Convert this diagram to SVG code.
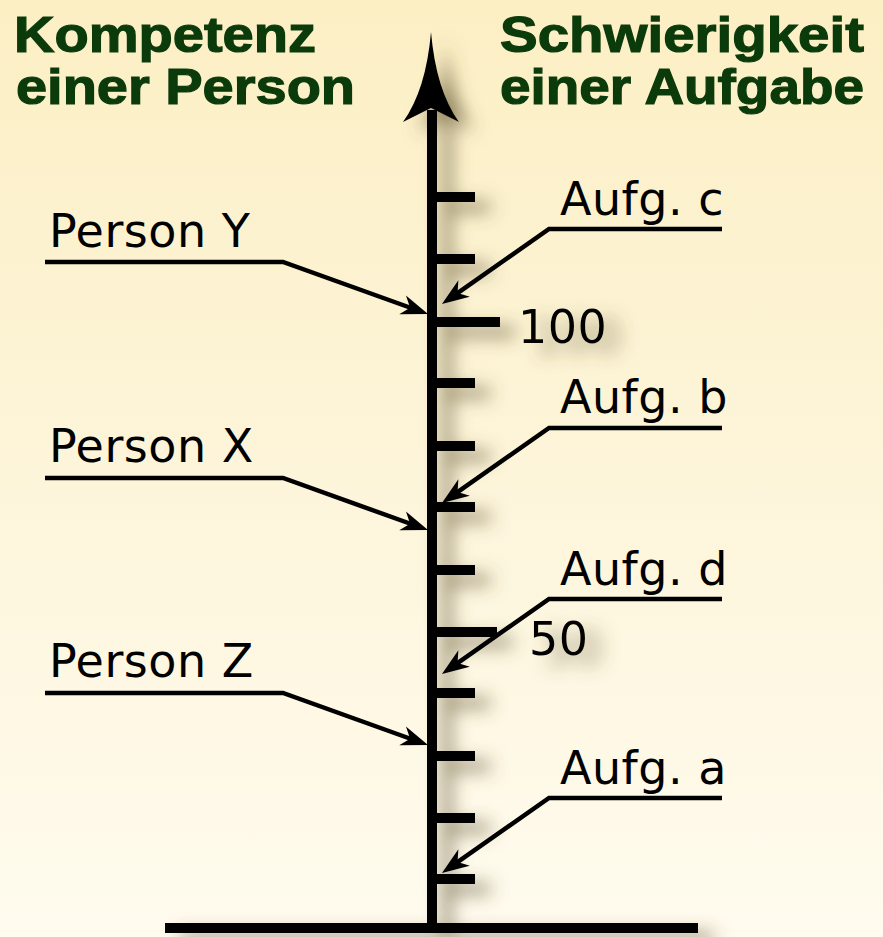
<svg xmlns="http://www.w3.org/2000/svg" width="883" height="937" viewBox="0 0 883 937">
<defs>
<linearGradient id="bg" x1="0" y1="0" x2="0" y2="1">
<stop offset="0" stop-color="#fcefc4"/>
<stop offset="0.5" stop-color="#fdf5da"/>
<stop offset="1" stop-color="#fffbee"/>
</linearGradient>
<filter id="shadow" x="-50%" y="-10%" width="200%" height="120%">
<feGaussianBlur in="SourceAlpha" stdDeviation="9"/>
<feOffset dx="15" dy="10" result="b"/>
<feFlood flood-color="#5a4e2c" flood-opacity="0.65"/>
<feComposite in2="b" operator="in" result="s"/>
<feMerge><feMergeNode in="s"/><feMergeNode in="SourceGraphic"/></feMerge>
</filter>
<marker id="arr" markerUnits="userSpaceOnUse" markerWidth="44" markerHeight="44" viewBox="-22 -22 44 44" refX="0" refY="0" orient="auto">
<path d="M12,0 L-15,-10 L-7,0 L-15,10 Z" fill="#000"/>
</marker>
<style>
.title{font-family:"Liberation Sans",Arial,sans-serif;font-weight:bold;font-size:50px;fill:#0b3a0b;stroke:#0b3a0b;stroke-width:1.2px}
.lbl{font-family:"DejaVu Sans","Liberation Sans",sans-serif;font-size:46px;letter-spacing:0.5px;fill:#000}
.tick{stroke:#000;stroke-width:10;fill:none}
.lead{stroke:#000;stroke-width:4.5;fill:none;stroke-linejoin:miter}
</style>
</defs>
<rect x="0" y="0" width="883" height="937" fill="url(#bg)"/>

<g id="titles">
<text class="title" x="14" y="52" textLength="302" lengthAdjust="spacingAndGlyphs">Kompetenz</text>
<text class="title" x="16" y="104" textLength="339" lengthAdjust="spacingAndGlyphs">einer Person</text>
<text class="title" x="500" y="52" textLength="364" lengthAdjust="spacingAndGlyphs">Schwierigkeit</text>
<text class="title" x="500" y="104" textLength="364" lengthAdjust="spacingAndGlyphs">einer Aufgabe</text>
</g>

<g id="axis" filter="url(#shadow)">
<path d="M432,110 V928" class="tick"/>
<path d="M431,32 Q426,90 403,122 L431,108 L459,122 Q436,90 431,32 Z" fill="#000"/>
<path class="tick" d="M432,197 H475 M432,259 H475 M432,322 H500 M432,383 H475 M432,446 H475 M432,507 H475 M432,570 H475 M432,632 H497 M432,693 H475 M432,756 H475 M432,818 H475 M432,879 H475"/>
<path d="M165,928 H698" class="tick"/>
<text class="lbl" x="518" y="343">100</text>
<text class="lbl" x="529" y="655">50</text>
</g>

<g id="person-y"><text class="lbl" x="49" y="247">Person Y</text></g>
<g id="person-x"><text class="lbl" x="49" y="462">Person X</text></g>
<g id="person-z"><text class="lbl" x="49" y="677">Person Z</text></g>
<g id="aufg-c"><text class="lbl" x="560" y="215">Aufg. c</text></g>
<g id="aufg-b"><text class="lbl" x="560" y="413">Aufg. b</text></g>
<g id="aufg-d"><text class="lbl" x="560" y="585">Aufg. d</text></g>
<g id="aufg-a"><text class="lbl" x="560" y="784">Aufg. a</text></g>

<g id="connectors">
<path class="lead" marker-end="url(#arr)" d="M45,262 H283 L416.7,310"/>
<path class="lead" marker-end="url(#arr)" d="M45,478 H283 L416.7,526"/>
<path class="lead" marker-end="url(#arr)" d="M45,693 H283 L416.7,741"/>
<path class="lead" marker-end="url(#arr)" d="M722,229 H549 L451.8,297.1"/>
<path class="lead" marker-end="url(#arr)" d="M722,428 H549 L451.8,496.1"/>
<path class="lead" marker-end="url(#arr)" d="M722,599 H549 L451.8,667.1"/>
<path class="lead" marker-end="url(#arr)" d="M722,798 H549 L451.8,866.1"/>
</g>
</svg>
